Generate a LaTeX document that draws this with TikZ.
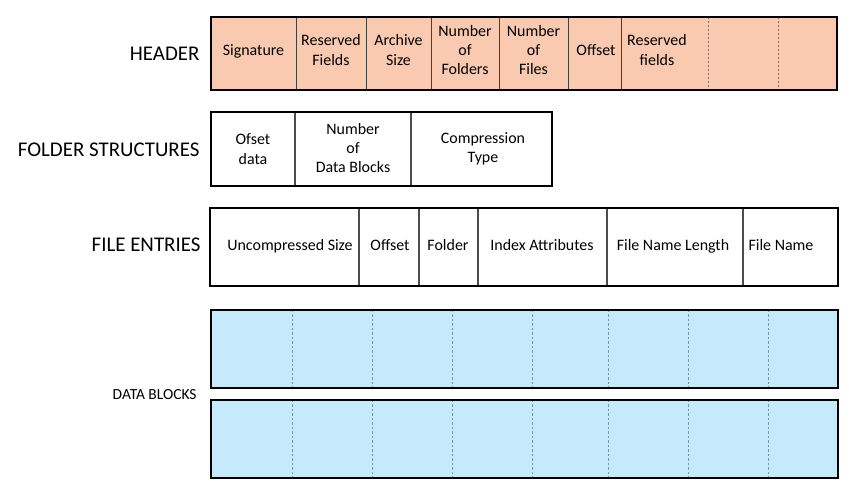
\documentclass[tikz,border=0pt]{standalone}
\usepackage{fontspec}
\setmainfont{Carlito}
\usepackage{tikz}

\definecolor{hdrfill}{RGB}{249,202,175}
\definecolor{blkfill}{RGB}{196,234,251}
\definecolor{blkdash}{RGB}{120,150,172}
\tikzset{
  rowlabel/.style={black, anchor=east, font=\fontsize{21}{25}\selectfont},
  celltext/.style={black, align=center, font=\fontsize{16}{19.5}\selectfont},
  outerbox/.style={black, line width=1.6},
  divider/.style={black!75, line width=0.8},
  thickdiv/.style={black!70, line width=1.3},
  hdash/.style={black!55, line width=0.7, dash pattern=on 2pt off 2pt},
  bdash/.style={blkdash, line width=0.7, dash pattern=on 2.5pt off 2pt}
}

\begin{document}
\begin{tikzpicture}[x=1bp, y=-1bp]
  \useasboundingbox (0,0) rectangle (849,493);
  % header
   \fill [hdrfill] (211,17) rectangle (837,90);
    \foreach \xx in {296,366,431,499,568,621} \draw[divider] (\xx,17) -- (\xx,90);
    \foreach \xx in {708,778} \draw[hdash] (\xx,17) -- (\xx,90);
   \draw[outerbox] (211,17) rectangle (837,90);
    \node[rowlabel] (lhead) at (203,54) {HEADER};
    \node[celltext] (sig) at (253.5,51) {Signature};
    \node[celltext] (resv) at (331,50) {Reserved\\Fields};
    \node[celltext] (asize) at (398.5,50) {Archive\\Size};
    \node[celltext] (nfold) at (465,50) {Number\\of\\Folders};
    \node[celltext] (nfile) at (533.5,50) {Number\\of\\Files};
    \node[celltext] (hoff) at (596,50) {Offset};
    \node[celltext] (resf) at (657,50) {Reserved\\fields};
  % folder structures
   \draw[thickdiv] (295,112) -- (295,186);
   \draw[thickdiv] (411,112) -- (411,186);
   \draw[outerbox] (211,112) rectangle (552,186);
    \node[rowlabel] (lfold) at (203,150) {FOLDER STRUCTURES};
    \node[celltext] (ofs) at (253,149) {Ofset\\data};
    \node[celltext] (ndb) at (353,148) {Number\\of\\Data Blocks};
    \node[celltext] (ctype) at (483,149) {Compression\\Type};
  % file entries
   \foreach \xx in {359,419,478,607,743} \draw[thickdiv] (\xx,208) -- (\xx,286);
   \draw[outerbox] (210,208) rectangle (838,286);
    \node[rowlabel] (lfile) at (204,245) {FILE ENTRIES};
    \node[celltext] (usize) at (290,246) {Uncompressed Size};
    \node[celltext] (foff) at (390,245) {Offset};
    \node[celltext] (ffold) at (448,245) {Folder};
    \node[celltext] (iattr) at (542,245) {Index Attributes};
    \node[celltext] (fnlen) at (673,246) {File Name Length};
    \node[celltext] (fname) at (781,245) {File Name};
  % data blocks
   \fill [blkfill] (211,310) rectangle (838,388);
   \fill [blkfill] (211,400) rectangle (838,478);
    \foreach \xx in {292,372,452,532,608,688,768} {
      \draw[bdash] (\xx,310) -- (\xx,388);
      \draw[bdash] (\xx,400) -- (\xx,478);
    }
   \draw[outerbox] (211,310) rectangle (838,388);
   \draw[outerbox] (211,400) rectangle (838,478);
    \node[rowlabel, font=\fontsize{15.5}{18}\selectfont] (ldata) at (200,395) {DATA BLOCKS};
   \end{tikzpicture}
\end{document}
